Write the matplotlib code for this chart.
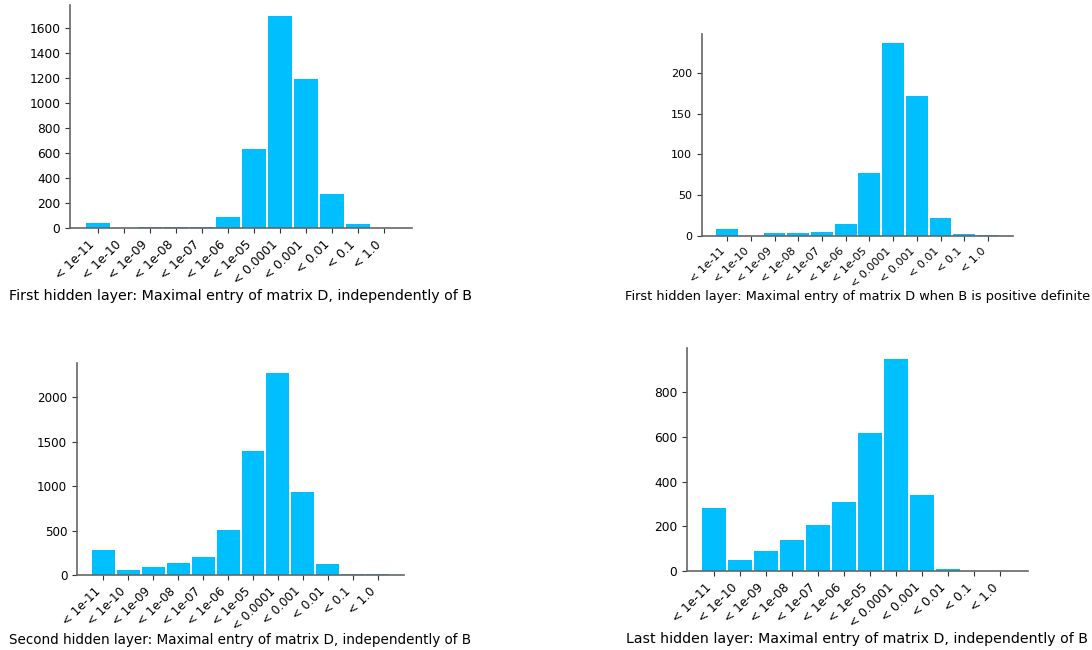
import matplotlib
matplotlib.use("Agg")
import matplotlib.pyplot as plt
import numpy as np

# Bucket labels (upper bound of the maximal entry)
bins = ["< 1e-11", "< 1e-10", "< 1e-09", "< 1e-08", "< 1e-07", "< 1e-06",
        "< 1e-05", "< 0.0001", "< 0.001", "< 0.01", "< 0.1", "< 1.0"]

first_layer = [38, 5, 13, 13, 13, 86, 634, 1697, 1189, 271, 30, 5]
first_layer_pd = [8, 0, 4, 4, 5, 15, 77, 236, 171, 22, 3, 1]
second_layer = [278, 53, 86, 132, 199, 504, 1395, 2274, 932, 120, 8, 8]
last_layer = [282, 48, 89, 138, 206, 309, 616, 950, 341, 8, 2, 2]

titles = [
    "First hidden layer: Maximal entry of matrix D, independently of B",
    "First hidden layer: Maximal entry of matrix D when B is positive definite",
    "Second hidden layer: Maximal entry of matrix D, independently of B",
    "Last hidden layer: Maximal entry of matrix D, independently of B",
]

fig = plt.figure(figsize=(10.92, 6.5), dpi=100)

# axes rect, label offset, tick font size, label font size
layout = [
    ([0.0641, 0.649, 0.313, 0.343], -0.274, 8.8, 10.25),
    ([0.6429, 0.637, 0.2848, 0.311], -0.266, 8.0, 9.3),
    ([0.0705, 0.1154, 0.2995, 0.326], -0.276, 8.6, 9.75),
    ([0.629, 0.1215, 0.3123, 0.343], -0.272, 8.8, 10.2),
]

x = np.arange(len(bins))
for (rect, label_y, tick_fs, label_fs), values, title in zip(
        layout, [first_layer, first_layer_pd, second_layer, last_layer], titles):
    ax = fig.add_axes(rect)
    ax.bar(x, values, width=0.92, color="#00BFFF")
    ax.set_xticks(x)
    ax.set_xticklabels(bins, rotation=45, ha="right", fontsize=tick_fs)
    ax.tick_params(axis="y", labelsize=tick_fs)
    ax.tick_params(colors="#333333", labelcolor="black", length=3.5)
    for side in ["top", "right"]:
        ax.spines[side].set_visible(False)
    for side in ["left", "bottom"]:
        ax.spines[side].set_color("#666666")
        ax.spines[side].set_linewidth(1.2)
    ax.set_xlabel(title, fontsize=label_fs)
    ax.xaxis.set_label_coords(0.5, label_y)

fig.savefig("out.png", dpi=100)
